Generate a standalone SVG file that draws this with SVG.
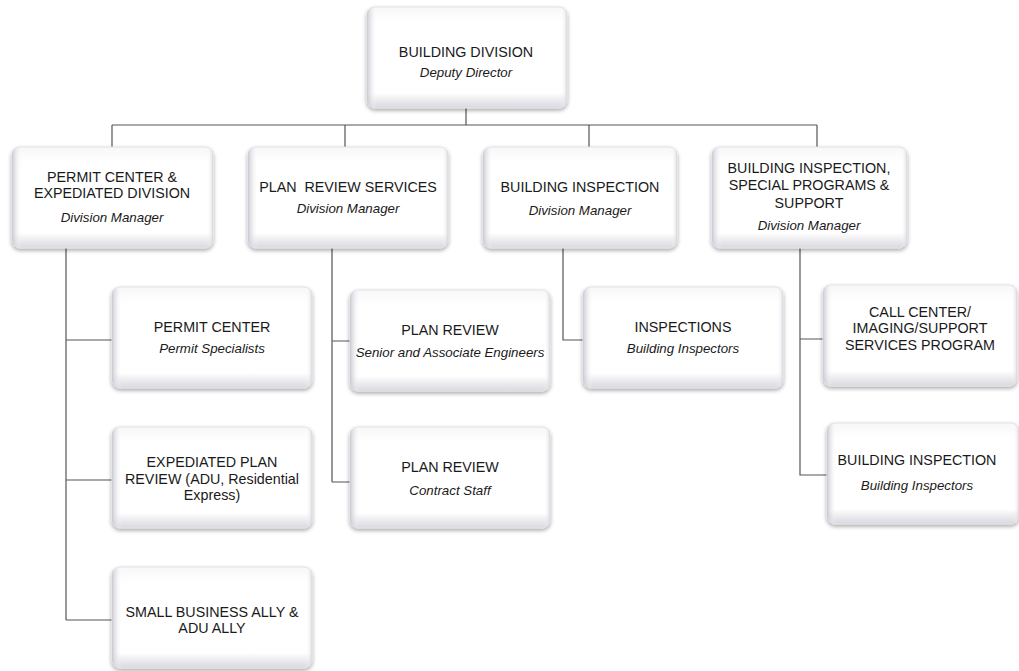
<svg xmlns="http://www.w3.org/2000/svg" width="1019" height="671" viewBox="0 0 1019 671">
<defs>
<linearGradient id="gv" x1="0" y1="0" x2="0" y2="1">
<stop offset="0" stop-color="#f7f7f9"/>
<stop offset="0.15" stop-color="#ffffff"/>
<stop offset="0.85" stop-color="#ffffff"/>
<stop offset="1" stop-color="#d8d8df"/>
</linearGradient>
<linearGradient id="gh" x1="0" y1="0" x2="1" y2="0">
<stop offset="0" stop-color="#c4c4cf" stop-opacity="0.9"/>
<stop offset="0.05" stop-color="#ffffff" stop-opacity="0"/>
<stop offset="0.97" stop-color="#ffffff" stop-opacity="0"/>
<stop offset="1" stop-color="#d0d0d8" stop-opacity="0.7"/>
</linearGradient>
<filter id="sh" x="-10%" y="-10%" width="120%" height="130%">
<feGaussianBlur in="SourceAlpha" stdDeviation="2"/>
<feOffset dx="0" dy="2" result="b"/>
<feComponentTransfer><feFuncA type="linear" slope="0.35"/></feComponentTransfer>
<feMerge><feMergeNode/><feMergeNode in="SourceGraphic"/></feMerge>
</filter>
</defs>
<style>
.box{fill:url(#gv);stroke:#e2e2e6;stroke-width:1;filter:url(#sh)}
.bev{fill:url(#gh);stroke:none}
.t{font-family:"Liberation Sans",Arial,sans-serif;font-size:14.3px;fill:#1a1a1a;text-anchor:middle}
.s{font-family:"Liberation Sans",Arial,sans-serif;font-size:13.3px;font-style:italic;fill:#1a1a1a;text-anchor:middle}
.ln{fill:none;stroke:#555;stroke-width:1.2}
</style>
<rect width="1019" height="671" fill="#fff"/>
<g id="connectors">
<path class="ln" d="M466 108 V125 M112 125 H817 M112 125 V147 M345 125 V147 M589 125 V147 M817 125 V147"/>
<path class="ln" d="M66 248 V620 M66 340 H112 M66 480 H112 M66 620 H112"/>
<path class="ln" d="M332 248 V482 M332 341 H350 M332 482 H350"/>
<path class="ln" d="M563 248 V340 H583"/>
<path class="ln" d="M800 248 V475 H827 M800 339 H823"/>
</g>
<g id="building-division">
<rect class="box" x="367" y="7" width="200" height="101" rx="8"/>
<rect class="bev" x="367" y="7" width="200" height="101" rx="8"/>
<text class="t" x="466" y="57">BUILDING DIVISION</text>
<text class="s" x="466" y="77">Deputy Director</text>
</g>
<g id="permit-center-expedited">
<rect class="box" x="12" y="147" width="201" height="101" rx="8"/>
<rect class="bev" x="12" y="147" width="201" height="101" rx="8"/>
<text class="t" x="112" y="182">PERMIT CENTER &amp;</text>
<text class="t" x="112" y="198">EXPEDIATED DIVISION</text>
<text class="s" x="112" y="222">Division Manager</text>
</g>
<g id="plan-review-services">
<rect class="box" x="248" y="147" width="200" height="101" rx="8"/>
<rect class="bev" x="248" y="147" width="200" height="101" rx="8"/>
<text class="t" x="348" y="192" xml:space="preserve">PLAN  REVIEW SERVICES</text>
<text class="s" x="348" y="213">Division Manager</text>
</g>
<g id="building-inspection-div">
<rect class="box" x="483" y="147" width="194" height="101" rx="8"/>
<rect class="bev" x="483" y="147" width="194" height="101" rx="8"/>
<text class="t" x="580" y="192">BUILDING INSPECTION</text>
<text class="s" x="580" y="215">Division Manager</text>
</g>
<g id="bi-special-programs">
<rect class="box" x="712" y="147" width="195" height="101" rx="8"/>
<rect class="bev" x="712" y="147" width="195" height="101" rx="8"/>
<text class="t" x="809" y="173">BUILDING INSPECTION,</text>
<text class="t" x="809" y="190">SPECIAL PROGRAMS &amp;</text>
<text class="t" x="809" y="208">SUPPORT</text>
<text class="s" x="809" y="230">Division Manager</text>
</g>
<g id="permit-center">
<rect class="box" x="112" y="287" width="200" height="101" rx="8"/>
<rect class="bev" x="112" y="287" width="200" height="101" rx="8"/>
<text class="t" x="212" y="332">PERMIT CENTER</text>
<text class="s" x="212" y="353">Permit Specialists</text>
</g>
<g id="plan-review-engineers">
<rect class="box" x="350" y="290" width="200" height="101" rx="8"/>
<rect class="bev" x="350" y="290" width="200" height="101" rx="8"/>
<text class="t" x="450" y="335">PLAN REVIEW</text>
<text class="s" x="450" y="357">Senior and Associate Engineers</text>
</g>
<g id="inspections">
<rect class="box" x="583" y="287" width="200" height="101" rx="8"/>
<rect class="bev" x="583" y="287" width="200" height="101" rx="8"/>
<text class="t" x="683" y="332">INSPECTIONS</text>
<text class="s" x="683" y="353">Building Inspectors</text>
</g>
<g id="call-center">
<rect class="box" x="823" y="285" width="194" height="101" rx="8"/>
<rect class="bev" x="823" y="285" width="194" height="101" rx="8"/>
<text class="t" x="920" y="317">CALL CENTER/</text>
<text class="t" x="920" y="333">IMAGING/SUPPORT</text>
<text class="t" x="920" y="350">SERVICES PROGRAM</text>
</g>
<g id="expedited-plan-review">
<rect class="box" x="112" y="427" width="200" height="101" rx="8"/>
<rect class="bev" x="112" y="427" width="200" height="101" rx="8"/>
<text class="t" x="212" y="467">EXPEDIATED PLAN</text>
<text class="t" x="212" y="484">REVIEW (ADU, Residential</text>
<text class="t" x="212" y="500">Express)</text>
</g>
<g id="plan-review-contract">
<rect class="box" x="350" y="427" width="200" height="101" rx="8"/>
<rect class="bev" x="350" y="427" width="200" height="101" rx="8"/>
<text class="t" x="450" y="472">PLAN REVIEW</text>
<text class="s" x="450" y="495">Contract Staff</text>
</g>
<g id="building-inspection-right">
<rect class="box" x="827" y="423" width="192" height="101" rx="8"/>
<rect class="bev" x="827" y="423" width="192" height="101" rx="8"/>
<text class="t" x="917" y="465">BUILDING INSPECTION</text>
<text class="s" x="917" y="490">Building Inspectors</text>
</g>
<g id="small-business-ally">
<rect class="box" x="112" y="567" width="200" height="101" rx="8"/>
<rect class="bev" x="112" y="567" width="200" height="101" rx="8"/>
<text class="t" x="212" y="617">SMALL BUSINESS ALLY &amp;</text>
<text class="t" x="212" y="633">ADU ALLY</text>
</g>
</svg>
